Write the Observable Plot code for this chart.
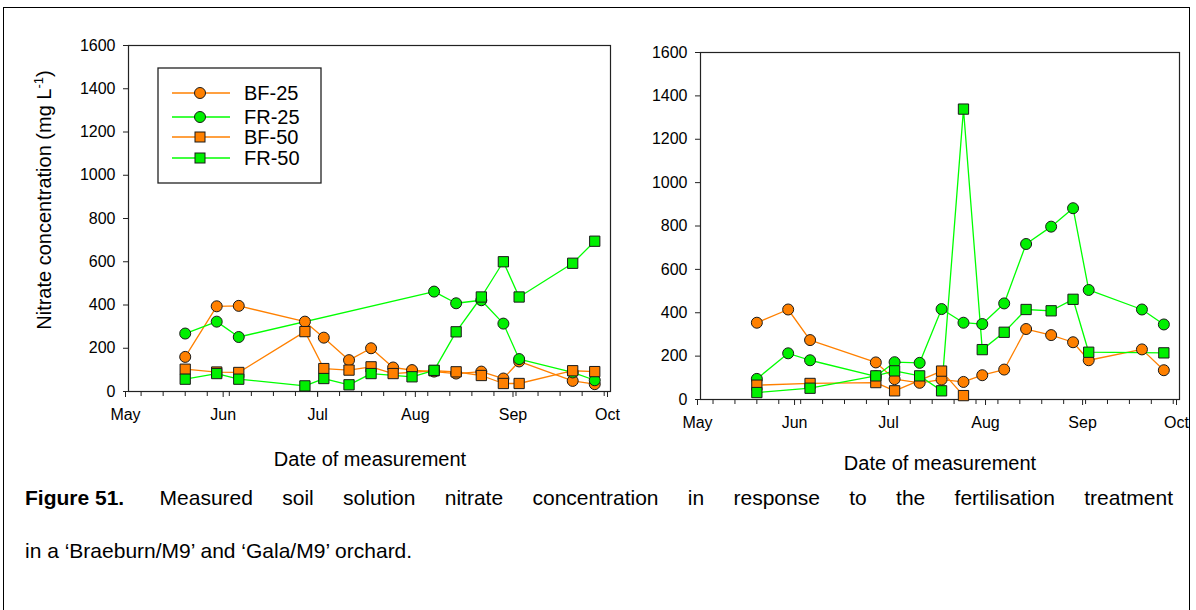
<!DOCTYPE html>
<html>
<head>
<meta charset="utf-8">
<script src="https://cdn.jsdelivr.net/npm/d3@7"></script>
<script src="https://cdn.jsdelivr.net/npm/@observablehq/plot@0.6"></script>
<style>
  body { margin: 0; background: #fff; font-family: "Liberation Sans", Arial, sans-serif; }
  #page { position: relative; width: 1196px; height: 610px; overflow: hidden; background: #fff; }
  #border { position: absolute; left: 3px; top: 7px; width: 1187px; height: 660px; border: 1.5px solid #000; box-sizing: border-box; }
  #left { position: absolute; left: 0; top: 0; }
  #right { position: absolute; left: 640px; top: 0; }
  #caption { position: absolute; left: 25px; top: 471px; width: 1148px; font-size: 21px; line-height: 53px; color: #000; }
  #caption .l1 { text-align: justify; text-align-last: justify; }
  #caption .fig { display: inline-block; font-weight: bold; margin-right: 6px; }
  #caption .l2 { text-align: left; }
</style>
</head>
<body>
<div id="page">
  <div id="border"></div>
  <div id="left"></div>
  <div id="right"></div>
  <div id="caption">
    <div class="l1"><span class="fig">Figure 51.</span> Measured soil solution nitrate concentration in response to the fertilisation treatment</div>
    <div class="l2">in a ‘Braeburn/M9’ and ‘Gala/M9’ orchard.</div>
  </div>
</div>
<script>
// ---- data ----
const dates = ["2003-05-19","2003-05-29","2003-06-05","2003-06-26","2003-07-02","2003-07-10","2003-07-17","2003-07-24",
               "2003-07-30","2003-08-06","2003-08-13","2003-08-21","2003-08-28","2003-09-02","2003-09-19","2003-09-26"];
const seriesNames = ["BF-25", "FR-25", "BF-50", "FR-50"];
const lineColors = ["#ff8000", "#00ff00", "#ff8000", "#00ff00"];
const fillColors = ["#ff8000", "#00f000", "#ff8000", "#00f000"];
const seriesSymbols = ["circle", "circle", "square", "square"];

// Left panel ('Braeburn/M9')
const leftBF25 = [160, 394, 396, 323, 249, 145, 200, 111, 99, 92, 83, 92, 60, 139, 49, 34];
const leftFR25 = [268, 323, 252, null, null, null, null, null, null, 462, 408, 422, 314, 150, 88, 52];
const leftBF50 = [103, 90, 88, 277, 106, 99, 114, 83, null, 96, 91, 74, 37, 37, 96, 92];
const leftFR50 = [57, 83, 57, 26, 60, 31, 83, null, 68, 98, 276, 437, 600, 437, 593, 695];

// Right panel ('Gala/M9')
const rightBF25 = [354, 415, 274, 171, 94, 77, 92, 81, 112, 138, 325, 297, 264, 181, 231, 135];
const rightFR25 = [95, 213, 181, 107, 172, 169, 417, 354, 348, 443, 717, 797, 882, 505, 415, 346];
const rightBF50 = [66, null, 74, 78, 40, null, 131, 18, null, null, null, null, null, null, null, null];
const rightFR50 = [32, null, 52, 109, 132, 109, 40, 1339, 230, 310, 415, 409, 462, 218, null, 215];

const monthTicks = ["2003-05-01","2003-06-01","2003-07-01","2003-08-01","2003-09-01","2003-10-01"];
const monthLabels = ["May","Jun","Jul","Aug","Sep","Oct"];
const yTicks = [0, 200, 400, 600, 800, 1000, 1200, 1400, 1600];
const xTitle = "Date of measurement";
const yTitle = "Nitrate concentration (mg L";

// ---- helpers ----
const parse = d3.utcParse("%Y-%m-%d");
const monthDates = monthTicks.map(parse);
const minorDates = d3.utcDay.range(parse("2003-05-05"), parse("2003-10-01"), 7);
const labelOf = new Map(monthDates.map((d, i) => [+d, monthLabels[i]]));

function rows(values) {
  return dates.map((d, i) => ({date: parse(d), value: values[i]})).filter(r => r.value != null);
}

function panel(valuesList, o) {
  const lines = valuesList.map((v, i) => Plot.line(rows(v), {x: "date", y: "value", stroke: lineColors[i], strokeWidth: 1.3}));
  const dots = valuesList.map((v, i) => Plot.dot(rows(v), {
    x: "date", y: "value", symbol: seriesSymbols[i],
    r: seriesSymbols[i] === "square" ? 5.8 : 5.5,
    fill: fillColors[i], stroke: "#1a1a1a", strokeWidth: 1
  }));
  return Plot.plot({
    width: o.width, height: o.height,
    marginLeft: o.ml, marginRight: o.mr, marginTop: o.mt, marginBottom: o.mb,
    style: {fontFamily: "'Liberation Sans', Arial, sans-serif", fontSize: "16px", color: "#000", background: "transparent", overflow: "visible"},
    x: {type: "utc", domain: [monthDates[0], monthDates[monthDates.length - 1]]},
    y: {domain: [0, 1600]},
    marks: [
      Plot.frame({stroke: "#222", strokeWidth: 1.2}),
      Plot.axisX({ticks: minorDates, tickSize: 5, tickFormat: () => "", label: null, stroke: "#222"}),
      Plot.axisX({ticks: monthDates, tickSize: 6, tickPadding: 11, dx: -3, tickFormat: d => labelOf.get(+d), label: null, stroke: "#222"}),
      Plot.axisY({ticks: yTicks, tickSize: 5, tickPadding: 8, tickFormat: d => String(d), label: null, stroke: "#222"}),
      ...lines,
      ...dots
    ]
  });
}

const left = panel([leftBF25, leftFR25, leftBF50, leftFR50], {width: 640, height: 480, ml: 128, mr: 30, mt: 45, mb: 89});
const right = panel([rightBF25, rightFR25, rightBF50, rightFR50], {width: 556, height: 480, ml: 60, mr: 17, mt: 52, mb: 81});
document.getElementById("left").appendChild(left);
document.getElementById("right").appendChild(right);

// axis titles
const FONT = "'Liberation Sans', Arial, sans-serif";
const ls = d3.select(left);
ls.append("text").attr("x", 370).attr("y", 466).attr("text-anchor", "middle")
  .attr("font-family", FONT).attr("font-size", 20).attr("fill", "#000").text(xTitle);
const yt = ls.append("text").attr("transform", "translate(51,200) rotate(-90)").attr("text-anchor", "middle")
  .attr("font-family", FONT).attr("font-size", 20).attr("fill", "#000");
yt.append("tspan").text(yTitle);
yt.append("tspan").attr("font-size", 13).attr("dy", -8).text("-1");
yt.append("tspan").attr("dy", 8).text(")");

d3.select(right).append("text").attr("x", 300).attr("y", 470).attr("text-anchor", "middle")
  .attr("font-family", FONT).attr("font-size", 20).attr("fill", "#000").text(xTitle);

// legend
const lg = ls.append("g");
lg.append("rect").attr("x", 158).attr("y", 68).attr("width", 163).attr("height", 115)
  .attr("fill", "#fff").attr("stroke", "#222").attr("stroke-width", 1.3);
const rowY = [93, 117, 137, 158];
seriesNames.forEach((name, i) => {
  const y = rowY[i];
  lg.append("line").attr("x1", 172).attr("x2", 230).attr("y1", y).attr("y2", y)
    .attr("stroke", lineColors[i]).attr("stroke-width", 1.3);
  if (seriesSymbols[i] === "circle") {
    lg.append("circle").attr("cx", 200).attr("cy", y).attr("r", 5.5)
      .attr("fill", fillColors[i]).attr("stroke", "#1a1a1a");
  } else {
    lg.append("rect").attr("x", 195).attr("y", y - 5).attr("width", 10).attr("height", 10)
      .attr("fill", fillColors[i]).attr("stroke", "#1a1a1a");
  }
  lg.append("text").attr("x", 244).attr("y", y).attr("dy", "0.35em").attr("text-anchor", "start")
    .attr("font-family", FONT).attr("font-size", 20).attr("fill", "#000").text(name);
});
</script>
</body>
</html>
